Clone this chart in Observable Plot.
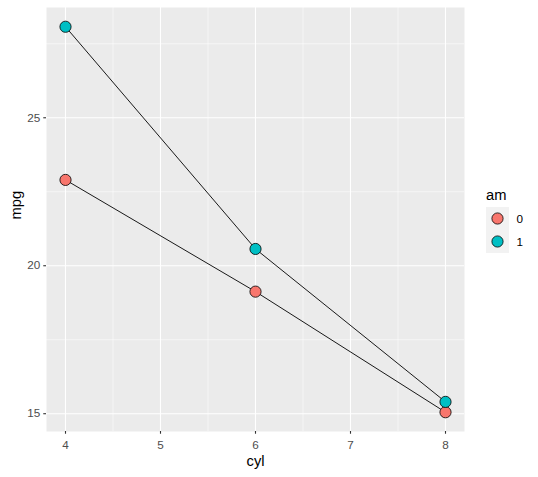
<!DOCTYPE html>
<html>
<head>
<meta charset="utf-8">
<script src="https://cdn.jsdelivr.net/npm/d3@7"></script>
<script src="https://cdn.jsdelivr.net/npm/@observablehq/plot@0.6"></script>
<style>
  body { margin: 0; background: #fff; }
  #chart { position: relative; width: 538px; height: 477px; font-family: "Liberation Sans", Arial, sans-serif; }
  #legend { position: absolute; left: 0; top: 0; }
</style>
</head>
<body>
<div id="chart"></div>
<script>
const cyl = [4, 6, 8];
const amLevels = ["0", "1"];
const mpg0 = [22.9, 19.125, 15.05];
const mpg1 = [28.075, 20.567, 15.4];
const colors = ["#F8766D", "#00BFC4"];
const xMajor = [4, 5, 6, 7, 8];
const xMinor = [4.5, 5.5, 6.5, 7.5];
const yMajor = [15, 20, 25];
const yMinor = [17.5, 22.5, 27.5];

const data = [];
cyl.forEach((c, i) => { data.push({cyl: c, am: "0", mpg: mpg0[i]}); });
cyl.forEach((c, i) => { data.push({cyl: c, am: "1", mpg: mpg1[i]}); });

const plot = Plot.plot({
  width: 538,
  height: 477,
  marginLeft: 46,
  marginRight: 74,
  marginTop: 7,
  marginBottom: 46,
  style: {fontFamily: "Liberation Sans, Arial, sans-serif", background: "#fff"},
  x: {domain: [3.8, 8.2]},
  y: {domain: [14.399, 28.726]},
  color: {domain: amLevels, range: colors},
  marks: [
    Plot.frame({fill: "#EBEBEB", stroke: null}),
    Plot.ruleX(xMinor, {stroke: "#fff", strokeWidth: 0.55}),
    Plot.ruleY(yMinor, {stroke: "#fff", strokeWidth: 0.55}),
    Plot.ruleX(xMajor, {stroke: "#fff", strokeWidth: 1.1}),
    Plot.ruleY(yMajor, {stroke: "#fff", strokeWidth: 1.1}),
    Plot.axisX(xMajor, {tickSize: 2.74, tickPadding: 6.5, fontSize: 11.7, stroke: "#333333", color: "#4D4D4D", label: null, strokeWidth: 1.1}),
    Plot.axisY(yMajor, {tickSize: 2.74, tickPadding: 3.5, fontSize: 11.7, stroke: "#333333", color: "#4D4D4D", label: null, strokeWidth: 1.1}),
    Plot.text(["cyl"], {frameAnchor: "bottom", dy: 34, fontSize: 14.7, fill: "#000"}),
    Plot.text(["mpg"], {frameAnchor: "left", dx: -30, rotate: -90, fontSize: 14.7, fill: "#000"}),
    Plot.line(data, {x: "cyl", y: "mpg", z: "am", stroke: "#000", strokeWidth: 0.9}),
    Plot.dot(data, {x: "cyl", y: "mpg", fill: "am", stroke: "#000", strokeWidth: 0.8, r: 5.6})
  ]
});
document.getElementById("chart").appendChild(plot);

// legend
const leg = d3.select("#chart").append("svg")
  .attr("id", "legend").attr("width", 538).attr("height", 477);
leg.append("text").attr("x", 486).attr("y", 199.5)
  .attr("font-size", 14.7).attr("fill", "#000").text("am");
amLevels.forEach((lv, i) => {
  const y0 = 207 + i * 23;
  leg.append("rect").attr("x", 486).attr("y", y0).attr("width", 23).attr("height", 23).attr("fill", "#F2F2F2");
  leg.append("circle").attr("cx", 497.5).attr("cy", y0 + 11.5).attr("r", 5.6)
    .attr("fill", colors[i]).attr("stroke", "#000").attr("stroke-width", 0.8);
  leg.append("text").attr("x", 516.5).attr("y", y0 + 11.5).attr("dy", "0.35em")
    .attr("font-size", 11.7).attr("fill", "#000").text(lv);
});
</script>
</body>
</html>
